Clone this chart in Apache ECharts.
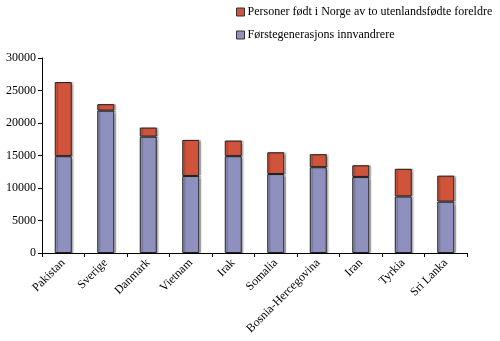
<!DOCTYPE html>
<html>
<head>
<meta charset="utf-8">
<script src="https://cdn.jsdelivr.net/npm/echarts@6/dist/echarts.min.js"></script>
<style>
  html, body { margin: 0; padding: 0; background: #fff; }
  #chart { width: 500px; height: 341px; }
</style>
</head>
<body>
<div id="chart"></div>
<script>
// Landbakgrunn med flest innvandrere og norskfødte med innvandrerforeldre
const countries = ['Pakistan', 'Sverige', 'Danmark', 'Vietnam', 'Irak', 'Somalia',
  'Bosnia-Hercegovina', 'Iran', 'Tyrkia', 'Sri Lanka'];
const firstGeneration = [14900, 21900, 17900, 11850, 14900, 12150, 13200, 11700, 8700, 7900];
const bornInNorway = [11400, 1000, 1400, 5550, 2400, 3350, 2000, 1800, 4250, 4000];
const seriesNames = ['Førstegenerasjons innvandrere', 'Personer født i Norge av to utenlandsfødte foreldre'];
const yTicks = { min: 0, max: 30000, interval: 5000 };

const font = 'Liberation Serif, Times New Roman, serif';
const chart = echarts.init(document.getElementById('chart'));

const barStyle = (color) => ({
  color: color,
  borderColor: '#222',
  borderWidth: 1,
  shadowColor: 'rgba(0,0,0,0.25)',
  shadowOffsetX: 2,
  shadowOffsetY: 0,
  shadowBlur: 1
});

chart.setOption({
  animation: false,
  backgroundColor: '#fff',
  textStyle: { fontFamily: font },
  legend: {
    orient: 'vertical',
    left: 231,
    top: 1,
    itemGap: 11,
    itemWidth: 8,
    itemHeight: 8,
    icon: 'rect',
    itemStyle: { borderColor: '#333', borderWidth: 1, shadowBlur: 0, shadowOffsetX: 0 },
    data: [seriesNames[1], seriesNames[0]],
    textStyle: { fontFamily: font, fontSize: 12, color: '#000', padding: [0, 0, 0, -2] }
  },
  grid: { left: 42, right: 33, top: 58, bottom: 88, containLabel: false },
  xAxis: {
    type: 'category',
    data: countries,
    boundaryGap: true,
    axisLine: { lineStyle: { color: '#000', width: 1 } },
    axisTick: { show: true, alignWithLabel: false, length: 4, lineStyle: { color: '#000' } },
    axisLabel: {
      rotate: 45,
      interval: 0,
      margin: 8,
      color: '#000',
      fontFamily: font,
      fontSize: 12
    }
  },
  yAxis: {
    type: 'value',
    min: yTicks.min,
    max: yTicks.max,
    interval: yTicks.interval,
    axisLine: { show: true, lineStyle: { color: '#000', width: 1 } },
    axisTick: { show: true, length: 4, lineStyle: { color: '#000' } },
    splitLine: { show: false },
    axisLabel: {
      color: '#000', fontFamily: font, fontSize: 12, margin: 6,
      formatter: (v) => String(v)
    }
  },
  series: [
    {
      name: seriesNames[0],
      type: 'bar',
      stack: 'total',
      barWidth: 17,
      data: firstGeneration,
      itemStyle: barStyle('#8F90BD')
    },
    {
      name: seriesNames[1],
      type: 'bar',
      stack: 'total',
      barWidth: 17,
      data: bornInNorway,
      itemStyle: barStyle('#D0543B')
    }
  ]
});
</script>
</body>
</html>
